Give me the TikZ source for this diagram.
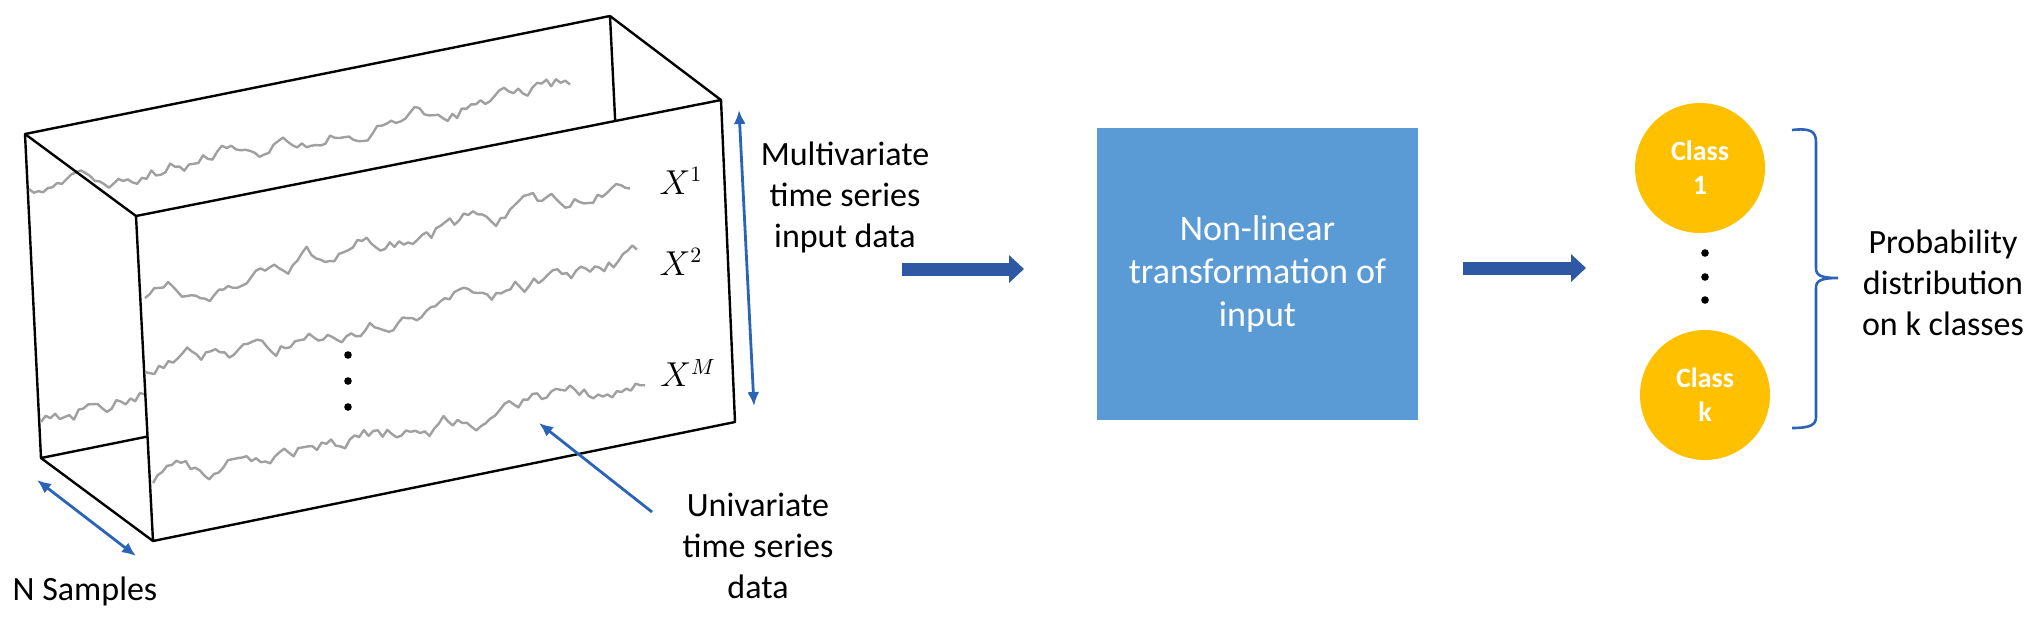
\documentclass[tikz,border=0pt]{standalone}
\usepackage{fontspec}
\setmainfont{Carlito}
\usetikzlibrary{arrows.meta,calc}
\definecolor{seriesgray}{HTML}{A0A0A0}
\definecolor{thinblue}{HTML}{2A64B8}
\definecolor{thickblue}{HTML}{2E58A4}
\definecolor{boxblue}{HTML}{5B9BD5}
\definecolor{classgold}{HTML}{FFC000}
\newcommand\tseries[7]{%
  \pgfmathsetseed{#7}%
  \pgfmathsetmacro\tsdx{(#3-#1)/#5}%
  \pgfmathsetmacro\tsdy{(#4-#2)/#5}%
  \xdef\tsv{0}%
  \xdef\tspath{(#1,#2)}%
  \foreach \tsi in {1,...,#5}{%
    \pgfmathsetmacro\tsnv{0.8*\tsv+#6*rand}%
    \xdef\tsv{\tsnv}%
    \pgfmathsetmacro\tsx{#1+\tsi*\tsdx}%
    \pgfmathsetmacro\tsy{#2+\tsi*\tsdy+\tsnv}%
    \xdef\tspath{\tspath -- (\tsx,\tsy)}%
  }%
  \edef\tsdraw{\noexpand\draw[series] \tspath;}%
  \tsdraw
}
\tikzset{
  series/.style={seriesgray, line width=1.2pt, line join=round},
  boxline/.style={black, line width=1.2pt, line join=round},
  thinarrow/.style={thinblue, line width=1.4pt, {Latex[length=7pt,width=6pt]}-{Latex[length=7pt,width=6pt]}},
  onearrow/.style={thinblue, line width=1.4pt, -{Latex[length=7pt,width=6pt]}},
  thickarrow/.style={thickblue, line width=6.5pt, -{Triangle[length=7.5pt,width=13.5pt]}},
  lbl/.style={font=\fontsize{17}{20.5}\selectfont, align=center, inner sep=0pt},
  mlbl/.style={font=\fontsize{16}{18}\selectfont, inner sep=0pt},
  procbox/.style={fill=boxblue, text=white, minimum width=160.5pt, minimum height=146pt, align=center, font=\fontsize{18}{21.5}\selectfont},
  cls/.style={circle, fill=classgold, text=white, minimum size=65pt, inner sep=0pt, align=center, font=\bfseries\fontsize{14}{17}\selectfont},
  dotmark/.style={fill=black}
}
\begin{document}
\begin{tikzpicture}[x=0.5pt,y=-0.5pt]
\useasboundingbox (0,0) rectangle (2040,618);
% box corners
\coordinate (A) at (25,134);
\coordinate (B) at (610,16);
\coordinate (Bp) at (626,340);
\coordinate (G) at (41,458);
\coordinate (D) at (136,216);
\coordinate (C) at (721,100);
\coordinate (F) at (735,422);
\coordinate (E) at (153,541);
% back face
\draw[boxline] (A) -- (B) -- (Bp) -- (G) -- cycle;
\tseries{29}{189}{570}{85}{115}{7}{11}
\tseries{41}{422}{300}{330}{55}{7}{12}
% connecting edges
\draw[boxline] (A) -- (D);
\draw[boxline] (B) -- (C);
\draw[boxline] (G) -- (E);
% front face
\draw[boxline, fill=white] (D) -- (C) -- (F) -- (E) -- cycle;
\tseries{145}{298}{630}{183}{105}{7}{21}
\tseries{145}{372}{637}{260}{105}{7}{22}
\tseries{153}{483}{645}{382}{105}{7}{23}
\fill[dotmark] (348,355) circle[radius=1.9pt];
\fill[dotmark] (348,381) circle[radius=1.9pt];
\fill[dotmark] (348,407) circle[radius=1.9pt];
\node[mlbl] (x1) at (681,181) {$X^{1}$};
\node[mlbl] (x2) at (681,262) {$X^{2}$};
\node[mlbl] (xm) at (688,373) {$X^{M}$};
% arrows on the cube
\coordinate (ns1) at (37,480);
\coordinate (ns2) at (136,556);
\draw[thinarrow] (ns1) -- (ns2);
\coordinate (va1) at (739,110);
\coordinate (va2) at (754,406);
\draw[thinarrow] (va1) -- (va2);
\node[lbl] (nsamp) at (85,591) {N Samples};
\node[lbl] (uni) at (758,546) {Univariate\\time series\\data};
\coordinate (unis) at (652,512);
\coordinate (unie) at (539,423);
\draw[onearrow] (unis) -- (unie);
\node[lbl] (multi) at (845,197) {Multivariate\\time series\\input data};
% process
\node[procbox] (proc) at (1257.5,274) {Non-linear\\transformation of\\input};
\coordinate (t1s) at (902,269);
\coordinate (t1e) at (1024,269);
\draw[thickarrow] (t1s) -- (t1e);
\coordinate (t2s) at (1463,268);
\coordinate (t2e) at (1586,268);
\draw[thickarrow] (t2s) -- (t2e);
% classes
\node[cls] (c1) at (1700,168) {Class\\1};
\node[cls] (ck) at (1705,395) {Class\\k};
\fill[dotmark] (1705,253) circle[radius=1.9pt];
\fill[dotmark] (1705,277) circle[radius=1.9pt];
\fill[dotmark] (1705,300) circle[radius=1.9pt];
% brace
\draw[thinblue, line width=1.3pt] (1792,130) .. controls (1810,128) and (1816,131) .. (1816,142) -- (1816,268) .. controls (1816,275) and (1820,278) .. (1838,278) .. controls (1820,278) and (1816,281) .. (1816,288) -- (1816,417) .. controls (1816,425) and (1810,428) .. (1792,428);
\node[lbl] (prob) at (1943,283) {Probability\\distribution\\on k classes};
\end{tikzpicture}
\end{document}
